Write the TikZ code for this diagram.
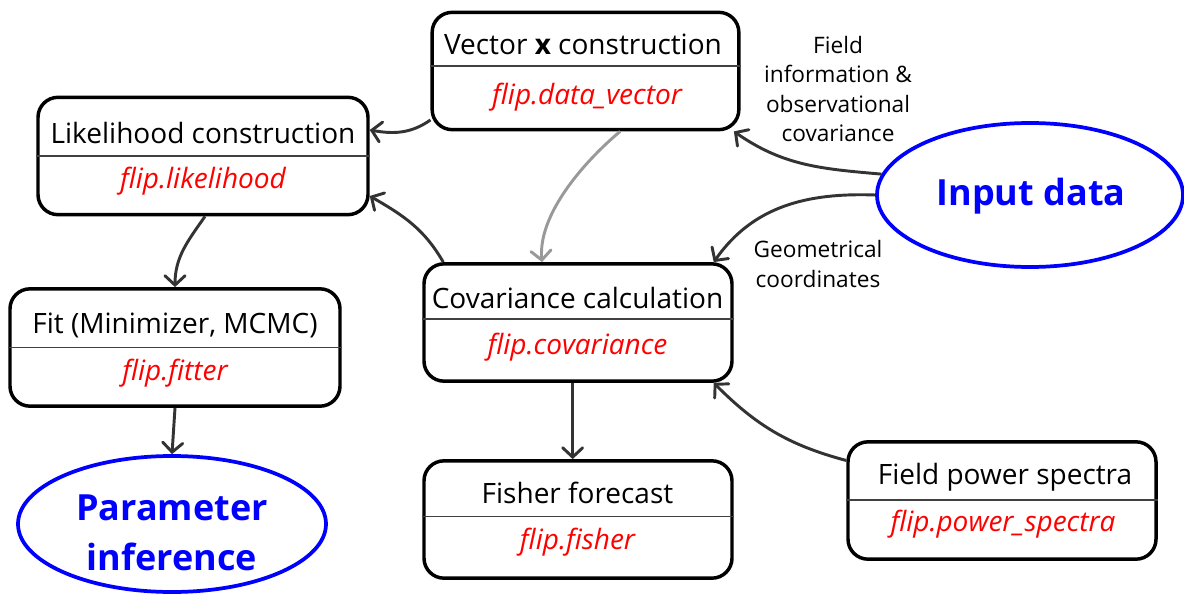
\documentclass[tikz,border=0pt]{standalone}
\usepackage{fontspec}
\setmainfont{Open Sans}
\usetikzlibrary{arrows.meta,shapes.geometric}
\definecolor{conncol}{HTML}{333333}
\definecolor{connlight}{HTML}{999999}
\definecolor{pureblue}{RGB}{0,0,255}
\definecolor{purered}{RGB}{255,0,0}
\tikzset{
  box/.style={draw=black, line width=2.6pt, rounded corners=15pt, minimum height=88pt, inner sep=0pt},
  titletext/.style={font=\fontsize{21}{25}\selectfont, text=black, inner sep=0pt},
  subtext/.style={font=\fontsize{21}{25}\selectfont\itshape, text=purered, inner sep=0pt},
  divider/.style={draw=black!75, line width=0.9pt},
  goal/.style={ellipse, draw=pureblue, line width=2.8pt, inner sep=0pt},
  goaltext/.style={text=pureblue, align=center, inner sep=0pt, font=\fontsize{27}{37.5}\selectfont\bfseries},
  conn/.style={draw=conncol, line width=2.2pt, -{Straight Barb[length=7pt,width=15pt,line cap=round]}},
  connl/.style={conn, draw=connlight},
  edgelabel/.style={font=\fontsize{17}{22}\selectfont, align=center, inner sep=0pt}
}
\begin{document}
\begin{tikzpicture}[x=0.75pt,y=-0.75pt]
\useasboundingbox (0,0) rectangle (1184,595);
% boxes
\node[box, minimum width=230pt] (vec) at (585.5,71) {};
\node[box, minimum width=247.5pt] (lik) at (203,156) {};
\node[box, minimum width=247.5pt] (fit) at (175,347.5) {};
\node[box, minimum width=231pt] (cov) at (578,322.5) {};
\node[box, minimum width=231pt] (fish) at (578,519.5) {};
\node[box, minimum width=231pt] (pow) at (1002,500.5) {};
% dividers
\draw[divider] ([yshift=3.75pt]vec.west) -- ([yshift=3.75pt]vec.east);
\draw[divider] (lik.west) -- (lik.east);
\draw[divider] (fit.west) -- (fit.east);
\draw[divider] ([yshift=2.6pt]cov.west) -- ([yshift=2.6pt]cov.east);
\draw[divider] ([yshift=2.1pt]fish.west) -- ([yshift=2.1pt]fish.east);
\draw[divider] ([yshift=0.4pt]pow.west) -- ([yshift=0.4pt]pow.east);
% texts
\node[titletext] (vect) at (583,44) {Vector \textbf{x} construction};
\node[subtext] (vecs) at (587,97) {flip.data\_vector};
\node[titletext] (likt) at (203,133) {Likelihood construction};
\node[subtext] (liks) at (203,181) {flip.likelihood};
\node[titletext] (fitt) at (175,325) {Fit (Minimizer, MCMC)};
\node[subtext] (fits) at (175,373) {flip.fitter};
\node[titletext] (covt) at (577.5,298) {Covariance calculation};
\node[subtext] (covs) at (577.5,347) {flip.covariance};
\node[titletext] (fisht) at (577.5,493) {Fisher forecast};
\node[subtext] (fishs) at (577.5,542) {flip.fisher};
\node[titletext] (powt) at (1005,477) {Field power spectra};
\node[subtext] (pows) at (1003,524) {flip.power\_spectra};
% ellipses
\node[goal, minimum width=229.5pt, minimum height=108pt] (inp) at (1030,195) {};
\node[goaltext] (inpt) at (1031,196) {Input data};
\node[goal, minimum width=231pt, minimum height=102pt] (par) at (172,524) {};
\node[goaltext] (part) at (172,533) {Parameter\\inference};
% edge labels
\node[edgelabel] (lab1) at (838,89) {Field\\information \&\\observational\\covariance};
\node[edgelabel] (lab2) at (818,264) {Geometrical\\coordinates};
% connectors
\draw[conn] ([yshift=-36.75pt]vec.west) to[out=215,in=-10] ([yshift=19.5pt]lik.east);
\draw[conn] (inp.172) to[out=175,in=-35] ([xshift=-5pt]vec.south east);
\draw[conn] (inp.west) to[out=178,in=55] ([xshift=-15pt]cov.north east);
\draw[conn] ([xshift=15.75pt]cov.north west) to[out=120,in=-30] ([yshift=-30pt]lik.east);
\draw[connl] ([xshift=26pt]vec.south) to[out=220,in=95,looseness=0.8] ([xshift=-27pt]cov.north);
\draw[conn] ([xshift=1.5pt]lik.south) to[out=235,in=90] (fit.north);
\draw[conn] (fit.south) -- (par.north);
\draw[conn] ([xshift=-4pt]cov.south) -- ([xshift=-4pt]fish.north);
\draw[conn] ([yshift=30pt]pow.west) to[out=165,in=-45] ([xshift=-15pt]cov.south east);
\end{tikzpicture}
\end{document}
